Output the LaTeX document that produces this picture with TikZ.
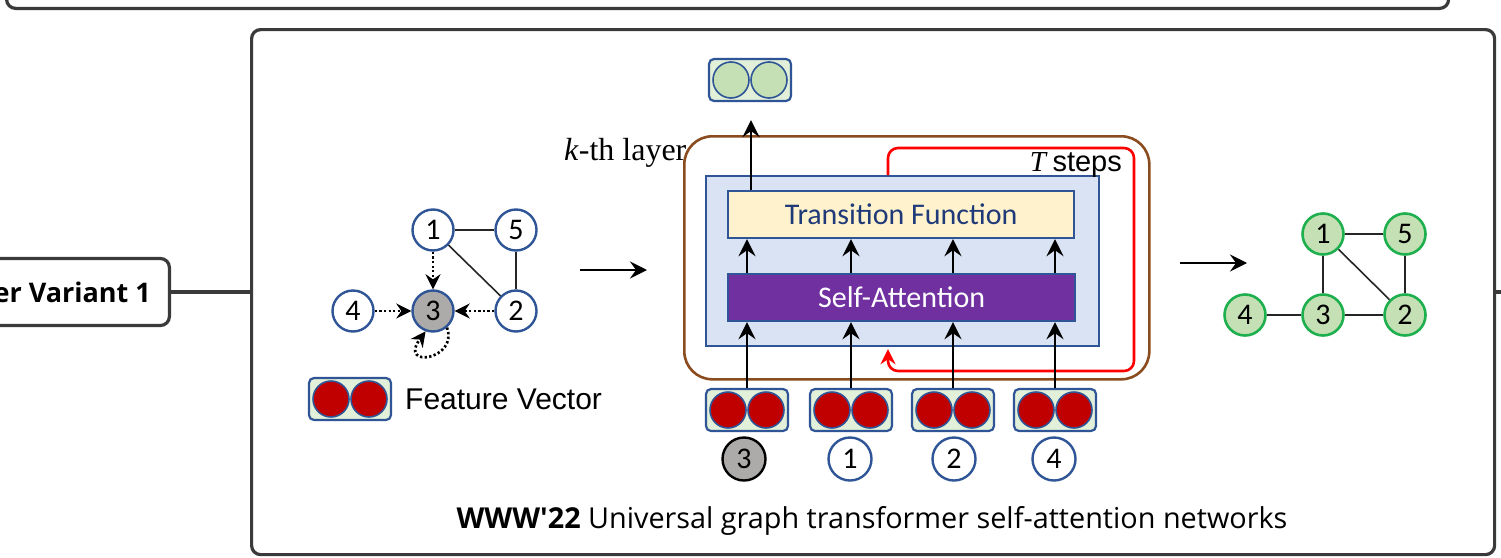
\documentclass[tikz,border=0pt]{standalone}
\usepackage{fontspec}
\setmainfont{Liberation Serif}
\newfontfamily\calib{Carlito}
\newfontfamily\arialf{Liberation Sans}
\newfontfamily\segoe{Open Sans}
\usetikzlibrary{arrows.meta,calc}
\definecolor{framegray}{HTML}{3A3A3A}
\definecolor{nblue}{HTML}{2F5597}
\definecolor{vgreen}{HTML}{E2F0D9}
\definecolor{vred}{HTML}{C00000}
\definecolor{ggreen}{HTML}{C5E0B4}
\definecolor{gborder}{HTML}{1EAF4E}
\definecolor{lblue}{HTML}{DAE3F3}
\definecolor{tfill}{HTML}{FFF2CC}
\definecolor{purp}{HTML}{7030A0}
\definecolor{brownc}{HTML}{8A4B1E}
\definecolor{tfblue}{HTML}{1F3A78}
\definecolor{gnodefill}{HTML}{ADABAA}
\tikzset{
  frame/.style={draw=framegray, line width=3.2pt, rounded corners=9pt, fill=white},
  gnode/.style={circle, draw=nblue, line width=2.4pt, fill=white, minimum size=41pt, inner sep=0pt, font=\calib\fontsize{30}{32}\selectfont},
  grnode/.style={circle, draw=gborder, line width=2.6pt, fill=ggreen, minimum size=41pt, inner sep=0pt, font=\calib\fontsize{30}{32}\selectfont},
  vecbox/.style={rectangle, rounded corners=5pt, draw=nblue, line width=2.2pt, fill=vgreen, minimum width=82pt, minimum height=42pt, inner sep=0pt},
  dot/.style={circle, draw=nblue, line width=1.6pt, fill=#1, minimum size=36pt, inner sep=0pt},
  arr/.style={line width=2.4pt, -{Stealth[length=17pt,width=17pt,inset=6pt]}},
  darr/.style={line width=2.7pt, dash pattern=on 2.3pt off 2.3pt, -{Stealth[length=15pt,width=15pt,inset=5pt]}},
  edge/.style={line width=1.6pt, draw=black!85},
}
\newcommand{\featvec}[4]{%
  \node[vecbox] (#1) at (#2,#3) {};
  \node[dot=#4] (#1a) at ($(#1)+(-19,0)$) {};
  \node[dot=#4] (#1b) at ($(#1)+(19,0)$) {};
}
\begin{document}
\begin{tikzpicture}[x=1pt,y=-1pt]
\useasboundingbox (0,0) rectangle (1501,557);
% top frame
\node[frame, minimum width=1442pt, minimum height=60pt, anchor=south west] (topbox) at (5,10) {};
% main frame
\node[frame, minimum width=1243pt, minimum height=525pt, anchor=north west] (main) at (250,28) {};
% left topic
\node[frame, minimum width=220pt, minimum height=67pt, anchor=east] (lb) at (171,292) {};
\node[anchor=east, font=\segoe\bfseries\fontsize{27}{30}\selectfont, inner sep=0pt] (lbt) at (151,292) {er Variant 1};
\coordinate (rexit) at (1510,292);
\draw[draw=framegray, line width=3.2pt] (lb.east) -- (lb.east -| main.west);
\draw[draw=framegray, line width=3.2pt] (main.east |- rexit) -- (rexit);

% left graph
\node[gnode] (a1) at (433,230) {1};
\node[gnode] (a5) at (516,230) {5};
\node[gnode] (a4) at (353,311) {4};
\node[gnode, fill=gnodefill] (a3) at (433,311) {3};
\node[gnode] (a2) at (516,311) {2};
\draw[edge] (a1) -- (a5);
\draw[edge] (a5) -- (a2);
\draw[edge] (a1) -- (a2);
\draw[darr] (a1) -- (a3);
\draw[darr] (a4) -- (a3);
\draw[darr] (a2) -- (a3);
\draw[darr] (a3.-50) .. controls ($(a3.-50)+(12,32)$) and ($(a3.-110)+(-28,38)$) .. (a3.-110);

% legend
\featvec{lg}{350}{399}{vred}
\node[anchor=west, font=\arialf\fontsize{30}{34}\selectfont, inner sep=0pt] (lgt) at (405,399) {Feature Vector};

% arrows between panels
\coordinate (arL1) at (580,270); \coordinate (arL2) at (647,270);
\draw[arr] (arL1) -- (arL2);
\coordinate (arR1) at (1180,263); \coordinate (arR2) at (1247,263);
\draw[arr] (arR1) -- (arR2);

% k-th layer box
\node[anchor=base west, inner sep=0pt, font=\fontsize{32}{34}\selectfont] (klab) at (564,160) {\textit{k}-th layer};
\node[draw=brownc, line width=2.6pt, rounded corners=28pt, minimum width=465pt, minimum height=243pt, anchor=north west] (layer) at (683,135) {};
\node[draw=nblue, line width=2.2pt, fill=lblue, minimum width=393pt, minimum height=170pt, anchor=north west] (blue) at (705,175) {};
\node[draw=nblue, line width=2.2pt, fill=tfill, minimum width=346pt, minimum height=47pt, anchor=north west, font=\calib\fontsize{30}{32}\selectfont, text=tfblue] (tf) at (727,190) {Transition Function};
\node[draw=nblue, line width=2.2pt, fill=purp, minimum width=347pt, minimum height=47pt, anchor=north west, font=\calib\fontsize{30}{32}\selectfont, text=white] (sa) at (727,273) {Self-Attention};
\node[anchor=base east, inner sep=0pt, font=\fontsize{29}{32}\selectfont] (tlab) at (1122,171) {\textit{T}\,{\arialf steps}};

% red loop
\coordinate (rs) at (888,175);
\coordinate (rtop) at (888,148);
\coordinate (rtr) at (1134,148);
\coordinate (rbr) at (1134,371);
\coordinate (rbl) at (888,371);
\draw[red, line width=2.6pt, rounded corners=10pt, -{Stealth[length=15pt,width=15pt,inset=5pt]}] (blue.north -| rs) -- (rtop) -- (rtr) -- (rbr) -- (rbl) -- ($(blue.south -| rs)+(0,2)$);

% output vector
\featvec{out}{750}{80}{ggreen}
\draw[arr, shorten >=18pt] (tf.north -| 751,0) -- (out.south -| 751,0);

% columns
\foreach \n/\x in {c3/747, c1/851, c2/953, c4/1055}{
  \featvec{v\n}{\x}{410}{vred}
  \draw[arr] (v\n.north) -- (sa.south -| v\n);
  \draw[arr] (sa.north -| v\n) -- (tf.south -| v\n);
}
\node[gnode, draw=black, fill=gnodefill, minimum size=43pt] (b3) at (744,459) {3};
\node[gnode, minimum size=43pt] (b1) at (850,459) {1};
\node[gnode, minimum size=43pt] (b2) at (954,459) {2};
\node[gnode, minimum size=43pt] (b4) at (1054,459) {4};

% right graph
\node[grnode] (g1) at (1323,234) {1};
\node[grnode] (g5) at (1405,234) {5};
\node[grnode] (g4) at (1245,315) {4};
\node[grnode] (g3) at (1323,315) {3};
\node[grnode] (g2) at (1405,315) {2};
\draw[edge] (g1) -- (g5);
\draw[edge] (g1) -- (g3);
\draw[edge] (g1) -- (g2);
\draw[edge] (g5) -- (g2);
\draw[edge] (g4) -- (g3);
\draw[edge] (g3) -- (g2);

% caption
\node[font=\segoe\fontsize{28.8}{32}\selectfont, inner sep=0pt] (cap) at (872,521) {\textbf{WWW'22} Universal graph transformer self-attention networks};
\end{tikzpicture}
\end{document}
